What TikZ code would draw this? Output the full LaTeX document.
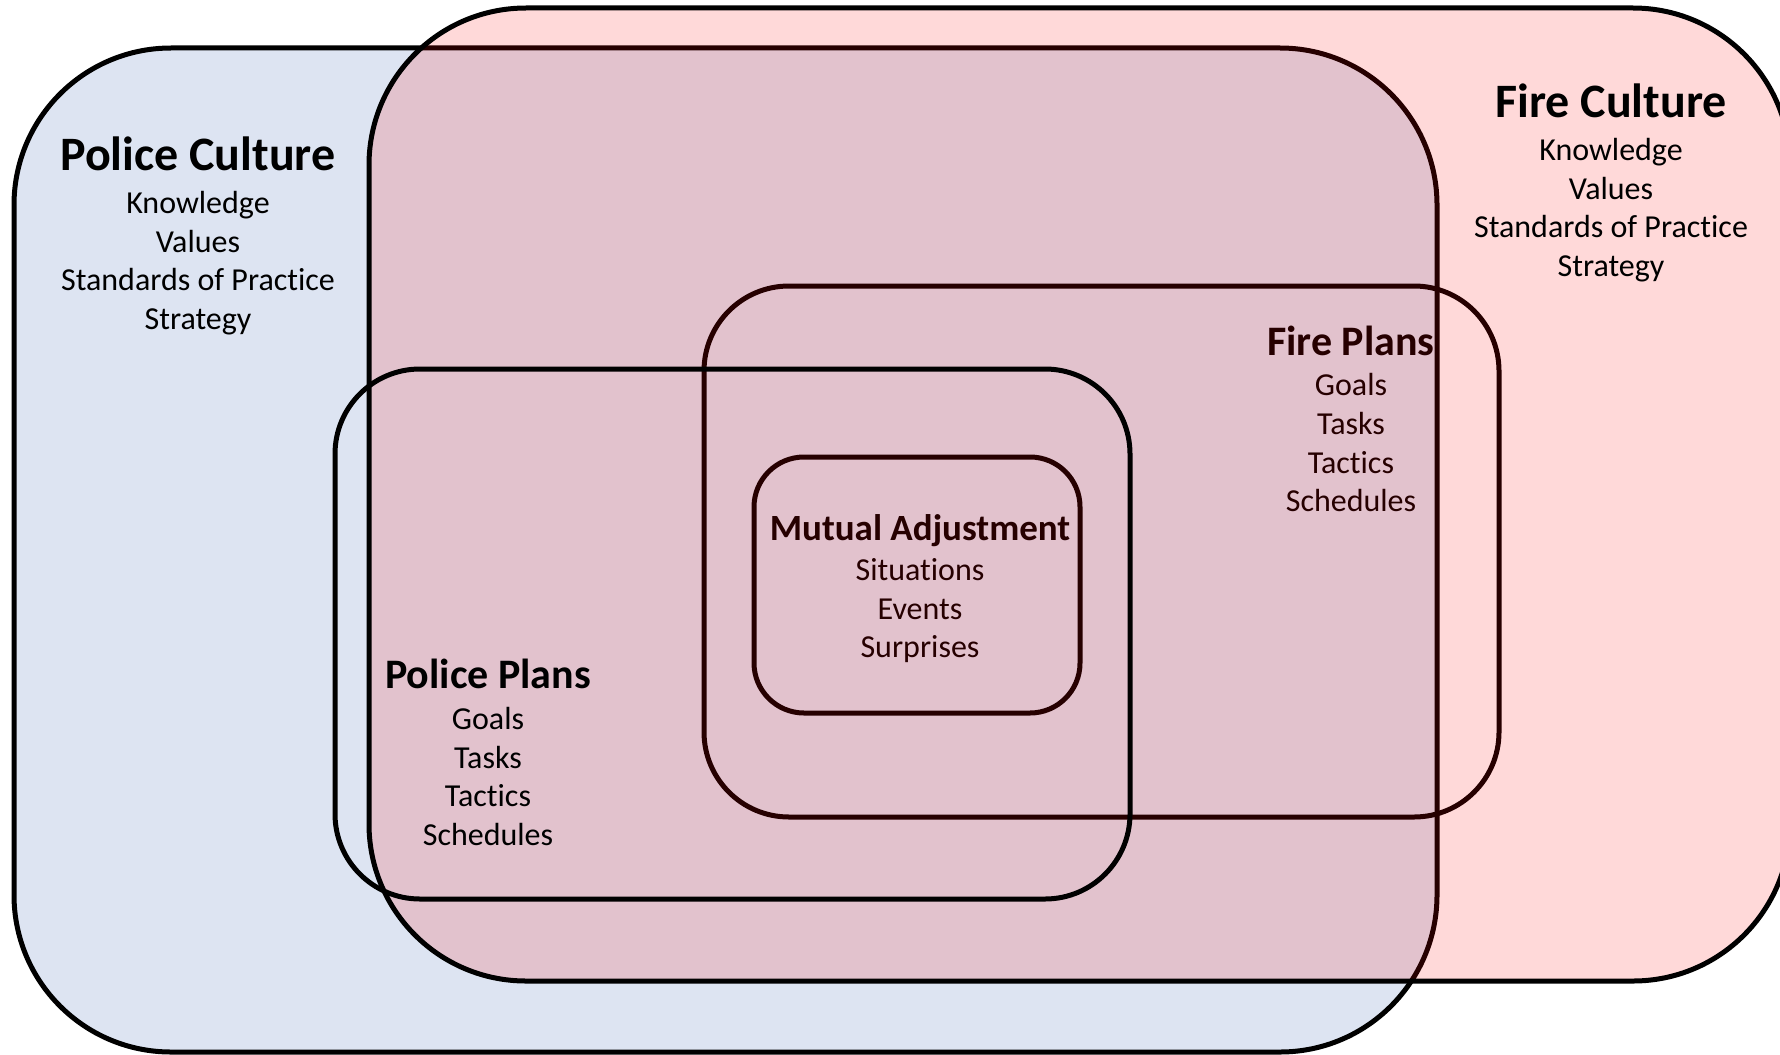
\documentclass[tikz,border=0pt]{standalone}
\usepackage{fontspec}
\setmainfont{Carlito}[Ligatures={NoCommon}]
\definecolor{policeblue}{RGB}{221,228,242}
\tikzset{
  box/.style={draw=black, line width=2.5pt, rounded corners=#1, inner sep=0pt},
  ttl/.style={anchor=base, inner sep=0pt, font=\bfseries\fontsize{#1}{#1}\selectfont},
  itm/.style={anchor=base, inner sep=0pt, font=\fontsize{16pt}{19pt}\selectfont},
}
\begin{document}
\begin{tikzpicture}[x=0.5pt,y=-0.5pt]
\useasboundingbox (0,0) rectangle (1780,1054);
\clip (0,0) rectangle (1780,1054);
% Police culture
\node[box=78.5pt, fill=policeblue, minimum width=711.5pt, minimum height=502pt] (pcbox) at (725.5,550) {};
\node[ttl=24pt] (pct) at (198,170) {Police Culture};
\node[itm] (pc1) at (198,213.5) {Knowledge};
\node[itm] (pc2) at (198,252) {Values};
\node[itm] (pc3) at (198,290.5) {Standards of Practice};
\node[itm] (pc4) at (198,329) {Strategy};
% Fire plans
\node[box=42.5pt, minimum width=397.5pt, minimum height=265.5pt] (fpbox) at (1101.5,551.5) {};
\node[ttl=21pt] (fpt) at (1351,355) {Fire Plans};
\node[itm] (fp1) at (1351,395.5) {Goals};
\node[itm] (fp2) at (1351,434.5) {Tasks};
\node[itm] (fp3) at (1351,473) {Tactics};
\node[itm] (fp4) at (1351,511.5) {Schedules};
% Mutual adjustment
\node[box=25pt, minimum width=163pt, minimum height=128pt] (mabox) at (917,585) {};
\node[ttl=18.5pt] (mat) at (920,540.5) {Mutual Adjustment};
\node[itm] (ma1) at (920,580.5) {Situations};
\node[itm] (ma2) at (920,619) {Events};
\node[itm] (ma3) at (920,657.5) {Surprises};
% Fire culture (translucent)
\node[box=78.5pt, fill=red, fill opacity=0.15, minimum width=710.5pt, minimum height=486.5pt] (fcbox) at (1079.5,494.5) {};
\node[ttl=24pt] (fct) at (1611,117.5) {Fire Culture};
\node[itm] (fc1) at (1611,160.5) {Knowledge};
\node[itm] (fc2) at (1611,199) {Values};
\node[itm] (fc3) at (1611,237.5) {Standards of Practice};
\node[itm] (fc4) at (1611,276) {Strategy};
% Police plans
\node[box=42.5pt, minimum width=397.5pt, minimum height=265pt] (ppbox) at (732.5,634) {};
\node[ttl=21pt] (ppt) at (488,688.5) {Police Plans};
\node[itm] (pp1) at (488,729.5) {Goals};
\node[itm] (pp2) at (488,768) {Tasks};
\node[itm] (pp3) at (488,806.5) {Tactics};
\node[itm] (pp4) at (488,845) {Schedules};
\end{tikzpicture}
\end{document}
